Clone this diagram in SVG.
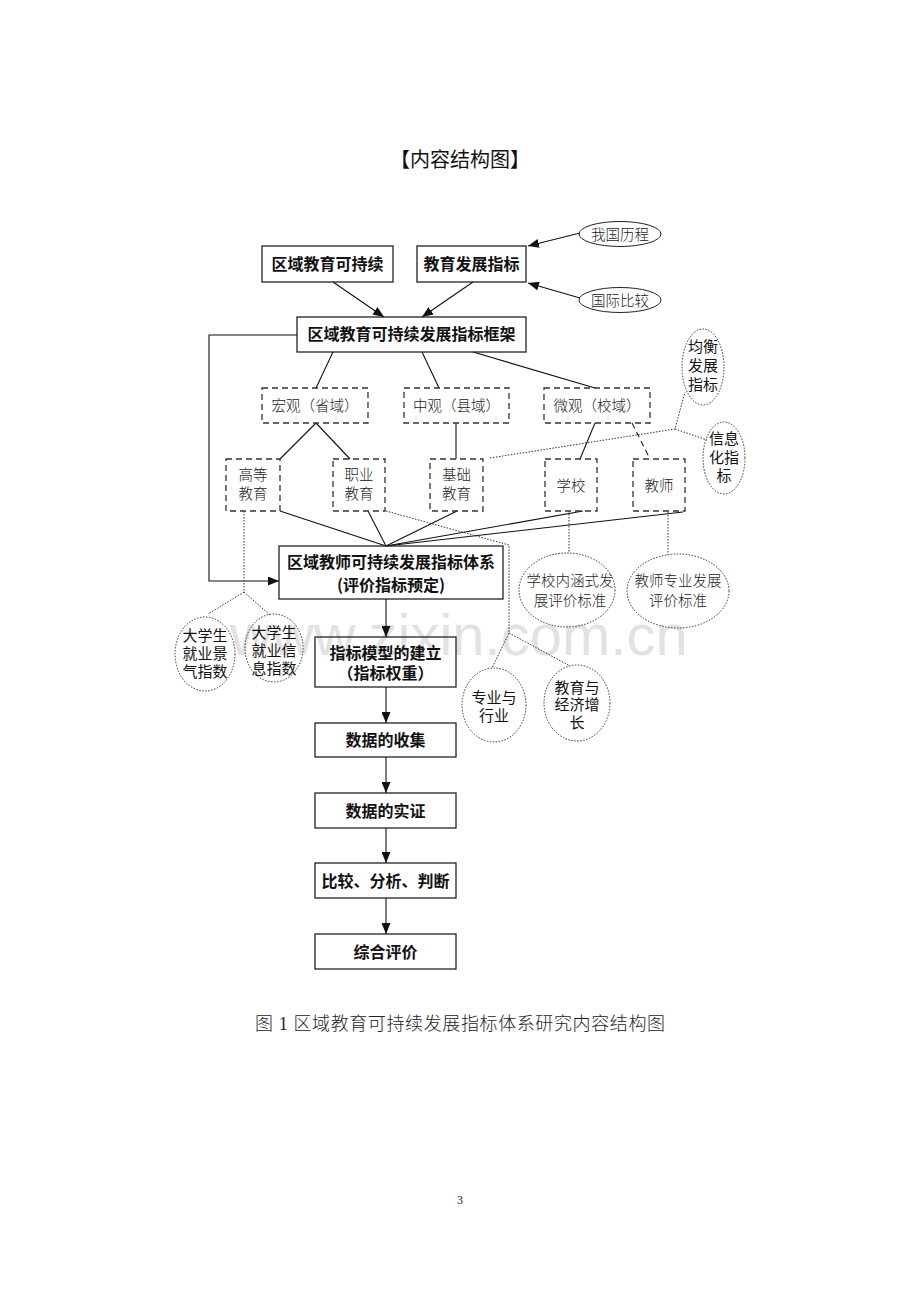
<svg xmlns="http://www.w3.org/2000/svg" width="920" height="1302" viewBox="0 0 920 1302">
<style>
.bx{fill:none;stroke:#222;stroke-width:1.3}
.dbx{fill:none;stroke:#333;stroke-width:1.3;stroke-dasharray:6,4}
.el{fill:none;stroke:#222;stroke-width:1}
.del{fill:none;stroke:#333;stroke-width:1;stroke-dasharray:1.5,1.5}
.ln{fill:none;stroke:#111;stroke-width:1.1}
.dl{fill:none;stroke:#333;stroke-width:1;stroke-dasharray:1.5,1.5}
.dash{fill:none;stroke:#222;stroke-width:1.1;stroke-dasharray:6,4}
.b{font-family:"Noto Sans CJK SC",sans-serif;font-weight:bold;font-size:16px;fill:#111;text-anchor:middle}
.s{font-family:"Liberation Serif","Noto Sans CJK SC",serif;font-weight:300;font-size:14.5px;fill:#222;text-anchor:middle}
.h{font-family:"Noto Sans CJK SC",sans-serif;font-weight:normal;font-size:15px;fill:#111;text-anchor:middle}
.wm{font-family:"Liberation Sans",sans-serif;font-size:58px;fill:#e2e2e2}
</style>
<defs>
<marker id="ah" markerUnits="userSpaceOnUse" markerWidth="11" markerHeight="9" refX="11" refY="4.5" orient="auto">
<path d="M0,0 L11,4.5 L0,9 z" fill="#111"/>
</marker>
</defs>
<rect width="920" height="1302" fill="#fff"/>
<text class="wm" x="230" y="655">www.zixin.com.cn</text>
<text x="460" y="167" style="font-family:'Noto Sans CJK SC',sans-serif;font-size:20px;fill:#111;text-anchor:middle">【内容结构图】</text>

<g id="connectors">
<line class="ln" x1="580" y1="233" x2="528" y2="246" marker-end="url(#ah)"/>
<line class="ln" x1="580" y1="298" x2="528" y2="283" marker-end="url(#ah)"/>
<line class="ln" x1="333" y1="282" x2="384" y2="317" marker-end="url(#ah)"/>
<line class="ln" x1="473" y1="282" x2="422" y2="317" marker-end="url(#ah)"/>
<polyline class="ln" points="297,335 209,335 209,581 279,581" marker-end="url(#ah)"/>
<line class="ln" x1="333" y1="352" x2="316" y2="388"/>
<line class="ln" x1="422" y1="352" x2="439" y2="388"/>
<line class="ln" x1="473" y1="352" x2="595" y2="388"/>
<line class="ln" x1="316" y1="423" x2="280" y2="459"/>
<line class="ln" x1="316" y1="423" x2="350" y2="459"/>
<line class="ln" x1="456" y1="423" x2="456" y2="459"/>
<line class="ln" x1="595" y1="423" x2="580" y2="459"/>
<line class="dash" x1="632" y1="423" x2="650" y2="459"/>
<line class="ln" x1="280" y1="511" x2="386" y2="546"/>
<line class="ln" x1="368" y1="511" x2="386" y2="546"/>
<line class="ln" x1="457" y1="511" x2="386" y2="546"/>
<line class="ln" x1="583" y1="511" x2="386" y2="546"/>
<line class="ln" x1="683" y1="512" x2="386" y2="546"/>
<line class="ln" x1="386" y1="599" x2="386" y2="637" marker-end="url(#ah)"/>
<line class="ln" x1="386" y1="687" x2="386" y2="723" marker-end="url(#ah)"/>
<line class="ln" x1="386" y1="757" x2="386" y2="793" marker-end="url(#ah)"/>
<line class="ln" x1="386" y1="828" x2="386" y2="863" marker-end="url(#ah)"/>
<line class="ln" x1="386" y1="898" x2="386" y2="934" marker-end="url(#ah)"/>
<polyline class="dl" points="490,458 675,429 685,392"/>
<line class="dl" x1="675" y1="429" x2="707" y2="440"/>
<polyline class="dl" points="244,511 244,592 208,614"/>
<line class="dl" x1="244" y1="592" x2="270" y2="615"/>
<polyline class="dl" points="386,511 509,545 509,633 492,668"/>
<line class="dl" x1="509" y1="633" x2="570" y2="666"/>
<line class="dl" x1="569" y1="511" x2="569" y2="553"/>
<line class="dl" x1="668" y1="512" x2="668" y2="555"/>
</g>

<g id="n-quyu"><rect class="bx" x="262" y="246" width="131" height="36"/><text class="b" x="327.5" y="270">区域教育可持续</text></g>
<g id="n-zhibiao"><rect class="bx" x="417" y="246" width="109" height="36"/><text class="b" x="471.5" y="270">教育发展指标</text></g>
<g id="n-woguo"><ellipse class="el" cx="620" cy="234" rx="41" ry="12.5"/><text class="s" x="620" y="239.5">我国历程</text></g>
<g id="n-guoji"><ellipse class="el" cx="620" cy="300" rx="41" ry="12.5"/><text class="s" x="620" y="305.5">国际比较</text></g>
<g id="n-kuangjia"><rect class="bx" x="297" y="317" width="229" height="35"/><text class="b" x="411.5" y="340">区域教育可持续发展指标框架</text></g>

<g id="n-hongguan"><rect class="dbx" x="262" y="388" width="106" height="35"/><text class="s" x="315" y="411">宏观（省域）</text></g>
<g id="n-zhongguan"><rect class="dbx" x="404" y="388" width="105" height="35"/><text class="s" x="456.5" y="411">中观（县域）</text></g>
<g id="n-weiguan"><rect class="dbx" x="544" y="388" width="106" height="35"/><text class="s" x="597" y="411">微观（校域）</text></g>

<g id="n-gaodeng"><rect class="dbx" x="226" y="459" width="54" height="52"/><text class="s" x="253" y="479.5">高等</text><text class="s" x="253" y="498.5">教育</text></g>
<g id="n-zhiye"><rect class="dbx" x="333" y="459" width="52" height="52"/><text class="s" x="359" y="479.5">职业</text><text class="s" x="359" y="498.5">教育</text></g>
<g id="n-jichu"><rect class="dbx" x="430" y="459" width="53" height="52"/><text class="s" x="456.5" y="479.5">基础</text><text class="s" x="456.5" y="498.5">教育</text></g>
<g id="n-xuexiao"><rect class="dbx" x="545" y="459" width="52" height="52"/><text class="s" x="571" y="490.5">学校</text></g>
<g id="n-jiaoshi"><rect class="dbx" x="633" y="459" width="52" height="52"/><text class="s" x="659" y="490.5">教师</text></g>

<g id="n-junheng"><ellipse class="del" cx="703" cy="367" rx="21" ry="38"/><text class="h" x="703" y="352">均衡</text><text class="h" x="703" y="371">发展</text><text class="h" x="703" y="390">指标</text></g>
<g id="n-xinxi"><ellipse class="del" cx="724" cy="458" rx="21" ry="36"/><text class="h" x="724" y="443.5">信息</text><text class="h" x="724" y="462.5">化指</text><text class="h" x="724" y="481">标</text></g>

<g id="n-tixi"><rect class="bx" x="279" y="546" width="224" height="53"/><text class="b" x="391" y="568">区域教师可持续发展指标体系</text><text class="b" x="391" y="591">(评价指标预定)</text></g>

<g id="n-jingqi"><ellipse class="del" cx="205" cy="654" rx="30" ry="37"/><text class="h" x="205" y="641">大学生</text><text class="h" x="205" y="659">就业景</text><text class="h" x="205" y="677">气指数</text></g>
<g id="n-xinxizs"><ellipse class="del" cx="274" cy="648" rx="29" ry="34"/><text class="h" x="274" y="637.5">大学生</text><text class="h" x="274" y="655.5">就业信</text><text class="h" x="274" y="673.5">息指数</text></g>

<g id="n-neihan"><ellipse class="del" cx="567" cy="590" rx="48" ry="37"/><text class="s" x="570" y="585.5">学校内涵式发</text><text class="s" x="570" y="605.5">展评价标准</text></g>
<g id="n-zhuanye"><ellipse class="del" cx="678" cy="591" rx="51" ry="37"/><text class="s" x="678" y="585.5">教师专业发展</text><text class="s" x="678" y="605.5">评价标准</text></g>

<g id="n-moxing"><rect class="bx" x="315" y="637" width="141" height="50"/><text class="b" x="385.5" y="659">指标模型的建立</text><text class="b" x="385.5" y="679">（指标权重）</text></g>

<g id="n-hangye"><ellipse class="del" cx="494" cy="705" rx="32" ry="37"/><text class="h" x="494" y="702.5">专业与</text><text class="h" x="494" y="720.5">行业</text></g>
<g id="n-jingji"><ellipse class="del" cx="577" cy="703" rx="33" ry="38"/><text class="h" x="577" y="692.5">教育与</text><text class="h" x="577" y="709.5">经济增</text><text class="h" x="577" y="727.5">长</text></g>

<g id="n-shouji"><rect class="bx" x="315" y="723" width="141" height="34"/><text class="b" x="385.5" y="746">数据的收集</text></g>
<g id="n-shizheng"><rect class="bx" x="315" y="793" width="141" height="35"/><text class="b" x="385.5" y="816.5">数据的实证</text></g>
<g id="n-bijiao"><rect class="bx" x="315" y="863" width="141" height="35"/><text class="b" x="385.5" y="886.5">比较、分析、判断</text></g>
<g id="n-zonghe"><rect class="bx" x="315" y="934" width="141" height="35"/><text class="b" x="385.5" y="957.5">综合评价</text></g>

<text x="255" y="1029.5" textLength="410" lengthAdjust="spacing" style="font-family:'Liberation Serif','Noto Sans CJK SC',serif;font-weight:300;font-size:18px;fill:#222">图 1  区域教育可持续发展指标体系研究内容结构图</text>
<text x="460" y="1204" style="font-family:'Liberation Serif',serif;font-size:12px;fill:#222;text-anchor:middle">3</text>
</svg>
